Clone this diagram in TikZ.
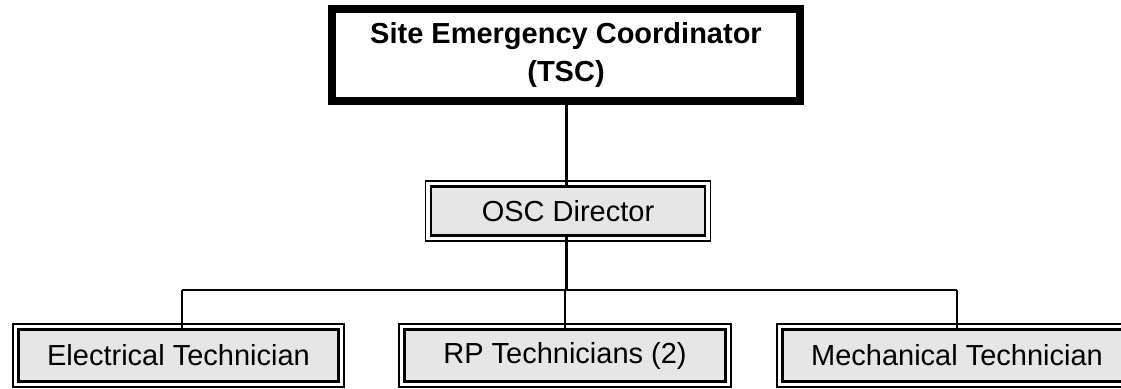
\documentclass[tikz,border=0pt]{standalone}
\usepackage{fontspec}
\setmainfont{Liberation Sans}
\definecolor{boxgray}{HTML}{E6E6E6}
\begin{document}
\begin{tikzpicture}[x=1pt,y=1pt,
  topbox/.style={draw, line width=8pt, inner sep=0pt, outer sep=0pt, minimum width=468pt, minimum height=92pt, align=center, font=\fontsize{29}{38}\selectfont\bfseries},
  dbox/.style={draw, line width=2.7pt, fill=boxgray, inner sep=0pt, outer sep=0pt, minimum height=52.5pt, font=\fontsize{29}{34}\selectfont},
  outerline/.style={draw, line width=1.8pt},
  conn/.style={draw, line width=2.6pt}]
\useasboundingbox (0,0) rectangle (1121,-388);
\clip (0,0) rectangle (1121,-388);
\fill[white] (0,0) rectangle (1121,-388);

\node[topbox] (top) at (566,-55) {Site Emergency Coordinator\\(TSC)};

\node[dbox, minimum width=274pt, minimum height=49.5pt] (osc) at (568,-211) {OSC Director};
\draw[outerline] ([shift={(-5.5pt,5.5pt)}]osc.north west) rectangle ([shift={(5.5pt,-5.5pt)}]osc.south east);

\node[dbox, minimum width=320.5pt] (elec) at (178.5,-355.5) {Electrical Technician};
\draw[outerline] ([shift={(-5.5pt,5.5pt)}]elec.north west) rectangle ([shift={(5.5pt,-5.5pt)}]elec.south east);

\node[dbox, minimum width=321.5pt] (rp) at (565,-355.5) {RP Technicians (2)};
\draw[outerline] ([shift={(-5.5pt,5.5pt)}]rp.north west) rectangle ([shift={(5.5pt,-5.5pt)}]rp.south east);

\node[dbox, minimum width=349.5pt] (mech) at (957,-355.5) {Mechanical Technician};
\draw[outerline] ([shift={(-5.5pt,5.5pt)}]mech.north west) rectangle ([shift={(5.5pt,-5.5pt)}]mech.south east);

\coordinate (bus) at (566.5,-290);
\coordinate (bl) at (182,-290);
\coordinate (br) at (957,-290);

\draw[conn] ([xshift=0.5pt]top.south) -- ([xshift=0.5pt]top.south |- osc.north);
\draw[conn] (bus |- osc.south) -- (bus);
\draw[conn] (bl) -- (br);
\draw[conn] (bl) -- (bl |- elec.north);
\draw[conn] (rp.north |- bus) -- (rp.north);
\draw[conn] (br) -- (mech.north);
\end{tikzpicture}
\end{document}
